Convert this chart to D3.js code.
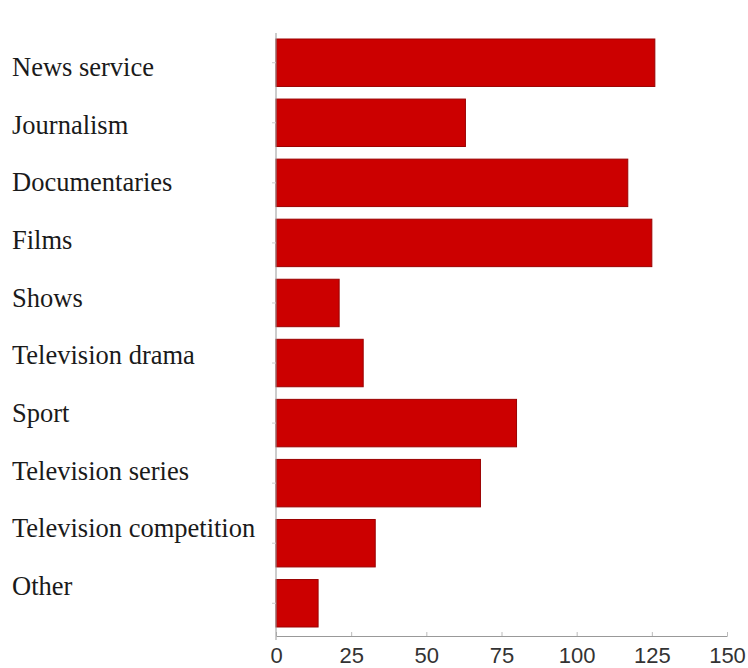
<!DOCTYPE html>
<html>
<head>
<meta charset="utf-8">
<script src="https://cdn.jsdelivr.net/npm/d3@7"></script>
<style>
  html, body { margin: 0; padding: 0; background: #fff; }
  svg { display: block; }
</style>
</head>
<body>
<svg id="chart" width="748" height="668"></svg>
<script>
const categories = ["News service", "Journalism", "Documentaries", "Films", "Shows",
  "Television drama", "Sport", "Television series", "Television competition", "Other"];
const values = [126, 63, 117, 125, 21, 29, 80, 68, 33, 14];
const xTicks = [0, 25, 50, 75, 100, 125, 150];

const svg = d3.select("#chart");

const x = d3.scaleLinear().domain([0, 150]).range([276, 727]);
const y = d3.scaleBand().domain(categories).range([33, 633]).paddingInner(0.21).paddingOuter(0.1);
// labels are laid out on their own slightly tighter grid
const yLabel = d3.scalePoint().domain(categories).range([67, 586]);

// bars
svg.append("g").selectAll("rect")
  .data(categories)
  .join("rect")
  .attr("x", x(0))
  .attr("y", d => y(d))
  .attr("width", (d, i) => x(values[i]) - x(0))
  .attr("height", y.bandwidth())
  .attr("fill", "#cc0000")
  .attr("stroke", "#9a0000")
  .attr("stroke-width", 1);

// x axis
const xAxis = svg.append("g")
  .attr("transform", "translate(0,636)")
  .call(d3.axisBottom(x).tickValues(xTicks).tickSize(-4).tickSizeOuter(0).tickPadding(11));
xAxis.select(".domain").attr("stroke", "#999");
xAxis.selectAll(".tick line").attr("stroke", "#bbb");
xAxis.selectAll(".tick text")
  .attr("font-family", "'Liberation Sans', Arial, sans-serif")
  .attr("font-size", 22)
  .attr("fill", "#333");

// y axis line and small ticks
const yAxis = svg.append("g")
  .attr("transform", `translate(${x(0)},0)`)
  .call(d3.axisLeft(y).tickSize(4).tickSizeOuter(0).tickFormat(""));
yAxis.select(".domain").attr("stroke", "#999").attr("d", "M0,33V640");
yAxis.selectAll(".tick line").attr("stroke", "#ccc");

// category labels
svg.append("g").selectAll("text")
  .data(categories)
  .join("text")
  .attr("x", 12)
  .attr("y", d => yLabel(d))
  .attr("dy", "0.34em")
  .attr("font-family", "'Liberation Serif', 'Times New Roman', serif")
  .attr("font-size", 26.5)
  .attr("fill", "#1a1a1a")
  .text(d => d);
</script>
</body>
</html>
